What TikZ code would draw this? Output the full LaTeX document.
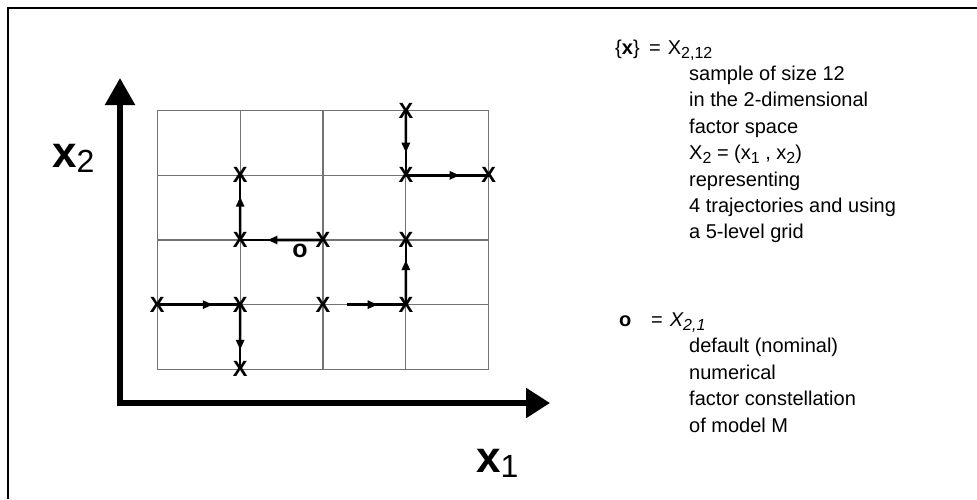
\documentclass[tikz,border=0pt]{standalone}
\usepackage{fontspec}
\setmainfont{Liberation Sans}
\usetikzlibrary{arrows.meta,calc}
\newcommand{\mysub}[1]{\raisebox{-4pt}{\fontsize{16}{16}\selectfont #1}}
\begin{document}
\begin{tikzpicture}[x=1pt,y=-1pt,
  gridline/.style={draw=black!55, line width=1.1pt},
  axis/.style={line width=5.5pt, line join=miter},
  traj/.style={line width=2.6pt},
  tip/.style={-{Triangle[length=10pt,width=8pt]}},
  mk/.style={inner sep=0pt, font=\bfseries\fontsize{22}{22}\selectfont},
  txt/.style={anchor=base west, inner sep=0pt, font=\fontsize{20}{20}\selectfont},
  axlabel/.style={anchor=base west, inner sep=0pt}]
\useasboundingbox (0,0) rectangle (977,499);
% frame (partly visible)
\draw[line width=2.5pt] (8,499) -- (8,8) -- (977,8);
% grid
\foreach \i in {0,...,4} {
  \draw[gridline] (157.3+82.85*\i,110.7) -- (157.3+82.85*\i,369.3);
  \draw[gridline] (157.3,110.7+64.65*\i) -- (488.7,110.7+64.65*\i);
}
\foreach \c in {0,...,4} {
  \foreach \r in {0,...,4} {
    \coordinate (g\c\r) at (157.3+82.85*\c,110.7+64.65*\r);
  }
}
% axes
\coordinate (O) at (120,403);
\coordinate (ytip) at (120,78);
\coordinate (xtip) at (550,403);
\draw[axis,{Triangle[length=27pt,width=29pt]}-{Triangle[length=24pt,width=29pt]}] (ytip) -- (O) -- (xtip);
\node[axlabel] (lx1) at (476,472) {\fontsize{44}{44}\selectfont\bfseries x\raisebox{-5pt}{\fontsize{32}{32}\mdseries\selectfont 1}};
\node[axlabel] (lx2) at (52,167) {\fontsize{44}{44}\selectfont\bfseries x\raisebox{-5pt}{\fontsize{32}{32}\mdseries\selectfont 2}};
% trajectories
\draw[traj] (g30) -- (g31) -- (g41);
\draw[traj,tip] (g30) -- ($(g30)!0.65!(g31)$);
\draw[traj,tip] (g31) -- ($(g31)!0.65!(g41)$);
\draw[traj] (g22) -- (g12) -- (g11);
\draw[traj,tip] (g22) -- ($(g22)!0.67!(g12)$);
\draw[traj,tip] (g12) -- ($(g12)!0.67!(g11)$);
\draw[traj] (g03) -- (g13) -- (g14);
\draw[traj,tip] (g03) -- ($(g03)!0.67!(g13)$);
\draw[traj,tip] (g13) -- ($(g13)!0.7!(g14)$);
\draw[traj,shorten <=24pt] (g23) -- (g33);
\draw[traj] (g33) -- (g32);
\draw[traj,tip,shorten <=24pt] (g23) -- ($(g23)!0.66!(g33)$);
\draw[traj,tip] (g33) -- ($(g33)!0.69!(g32)$);
% markers
\foreach \p in {30,31,41,11,12,22,32,33,23,03,13,14} {
  \node[mk] (m\p) at (g\p) {X};
}
\node[inner sep=0pt, font=\bfseries\fontsize{25}{25}\selectfont] (nom) at (300,251) {o};
% legend text
\node[txt] (h1) at (615,54) {\{\textbf{x}\}};
\node[txt] (h1b) at (649,54) {=\hspace{7pt}X\mysub{2,12}};
\node[txt] (t1) at (689,80.4) {sample of size 12};
\node[txt] (t2) at (689,106.8) {in the 2-dimensional};
\node[txt] (t3) at (689,133.2) {factor space};
\node[txt] (t4) at (689,159.6) {X\mysub{2} = (x\mysub{1} , x\mysub{2})};
\node[txt] (t5) at (689,186) {representing};
\node[txt] (t6) at (689,212.4) {4 trajectories and using};
\node[txt] (t7) at (689,238.8) {a 5-level grid};
\node[txt] (h2) at (619,326) {\textbf{o}};
\node[txt] (h2b) at (651,326) {=\hspace{7pt}\textit{X\mysub{2,1}}};
\node[txt] (u1) at (689,352.6) {default (nominal)};
\node[txt] (u2) at (689,379.2) {numerical};
\node[txt] (u3) at (689,405.8) {factor constellation};
\node[txt] (u4) at (689,432.4) {of model M};
\end{tikzpicture}
\end{document}
